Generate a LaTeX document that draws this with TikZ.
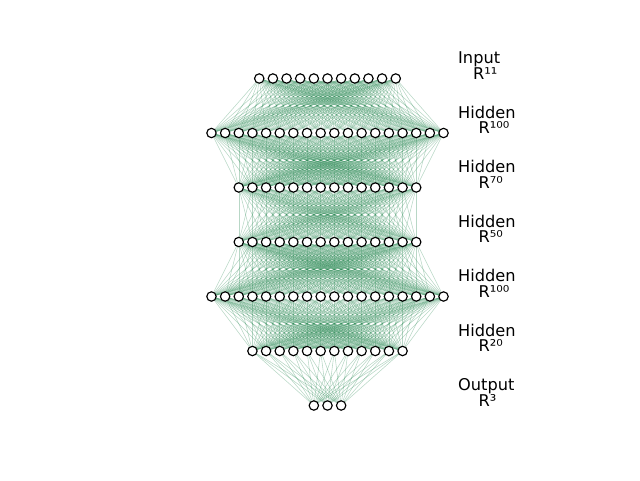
\documentclass[tikz,border=0pt]{standalone}
\usepackage{fontspec}
\setmainfont{DejaVu Sans}
\usetikzlibrary{backgrounds}
\definecolor{edgegreen}{HTML}{2E8B57}
\tikzset{
  neuron/.style={circle, draw=black, fill=white, line width=1.15pt, minimum size=9.4pt, inner sep=0pt},
  synapse/.style={draw=edgegreen, draw opacity=0.34, line width=0.55pt},
  lbl/.style={anchor=base west, inner sep=0pt, font=\fontsize{16.2}{19}\selectfont}
}
\begin{document}
\begin{tikzpicture}[x=1pt,y=-1pt]
\useasboundingbox (0,0) rectangle (640,480);
\def\cx{327.5}
\def\dx{13.65}
% layers: index/count/y
\foreach \L/\n/\yy in {1/11/78.5,2/18/133,3/14/187.5,4/14/242,5/18/296.5,6/12/351,7/3/405.5}{
  \foreach \i in {1,...,\n}{
    \node[neuron] (n\L-\i) at ({\cx+(\i-(\n+1)/2)*\dx},\yy) {};
  }
}
\begin{pgfonlayer}{background}
\foreach \L/\n/\M/\m in {1/11/2/18,2/18/3/14,3/14/4/14,4/14/5/18,5/18/6/12,6/12/7/3}{
  \foreach \i in {1,...,\n}{
    \foreach \j in {1,...,\m}{
      \draw[synapse] (n\L-\i.center) -- (n\M-\j.center);
    }
  }
}
\end{pgfonlayer}
% labels
\node[lbl] (t1a) at (458,63.5) {Input};
\node[lbl] (t1b) at (473,79) {R¹¹};
\node[lbl] (t2a) at (458,118) {Hidden};
\node[lbl] (t2b) at (478.5,133.5) {R¹⁰⁰};
\node[lbl] (t3a) at (458,172.5) {Hidden};
\node[lbl] (t3b) at (478.5,188) {R⁷⁰};
\node[lbl] (t4a) at (458,227) {Hidden};
\node[lbl] (t4b) at (478.5,242.5) {R⁵⁰};
\node[lbl] (t5a) at (458,281.5) {Hidden};
\node[lbl] (t5b) at (478.5,297) {R¹⁰⁰};
\node[lbl] (t6a) at (458,336) {Hidden};
\node[lbl] (t6b) at (478.5,351.5) {R²⁰};
\node[lbl] (t7a) at (458,390.5) {Output};
\node[lbl] (t7b) at (478.5,406) {R³};
\end{tikzpicture}
\end{document}
